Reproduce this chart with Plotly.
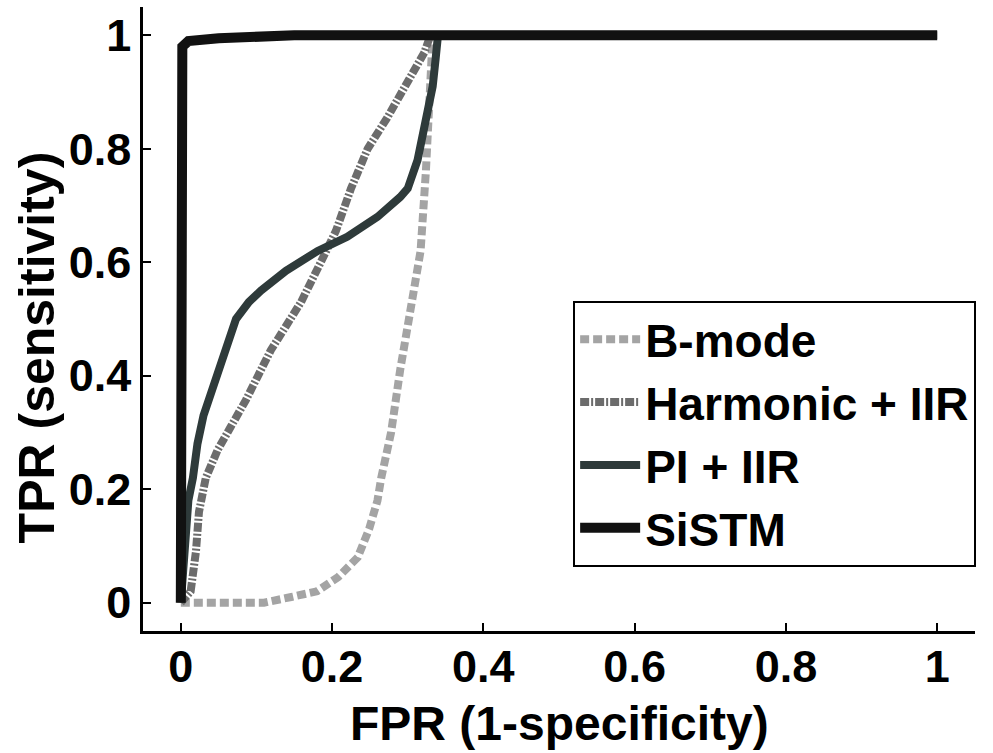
import plotly.graph_objects as go

# ---- data ----
bmode_fpr = [0.0, 0.05, 0.11, 0.146, 0.18, 0.208, 0.234, 0.249, 0.26, 0.265, 0.278, 0.29, 0.304, 0.317, 0.324, 0.33, 0.333]
bmode_tpr = [0.0, 0.0, 0.0, 0.01, 0.02, 0.045, 0.08, 0.13, 0.18, 0.22, 0.30, 0.41, 0.53, 0.62, 0.76, 0.90, 1.0]

harm_fpr = [0.0, 0.013, 0.02, 0.024, 0.033, 0.049, 0.066, 0.086, 0.119, 0.159, 0.185, 0.205, 0.225, 0.247, 0.273, 0.30, 0.322, 0.33]
harm_tpr = [0.0, 0.02, 0.09, 0.16, 0.22, 0.27, 0.31, 0.357, 0.445, 0.53, 0.60, 0.655, 0.73, 0.80, 0.855, 0.92, 0.97, 1.0]

pi_fpr = [0.0, 0.005, 0.01, 0.016, 0.022, 0.03, 0.04, 0.055, 0.073, 0.09, 0.106, 0.139, 0.181, 0.22, 0.26, 0.29, 0.30, 0.313, 0.322, 0.333, 0.337, 0.34, 1.0]
pi_tpr = [0.0, 0.10, 0.18, 0.22, 0.28, 0.33, 0.37, 0.43, 0.50, 0.53, 0.55, 0.585, 0.62, 0.645, 0.68, 0.715, 0.73, 0.78, 0.84, 0.91, 0.96, 1.0, 1.0]

sistm_fpr = [0.0, 0.002, 0.01, 0.05, 0.15, 1.0]
sistm_tpr = [0.0, 0.98, 0.99, 0.995, 1.0, 1.0]

tick_vals = [0, 0.2, 0.4, 0.6, 0.8, 1]
tick_text = ["0", "0.2", "0.4", "0.6", "0.8", "1"]

x_title = "FPR (1-specificity)"
y_title = "TPR (sensitivity)"

FONT = "Liberation Sans, Arial, Helvetica, sans-serif"

fig = go.Figure()
fig.add_trace(go.Scatter(x=bmode_fpr, y=bmode_tpr, mode="lines", name="B-mode", legendgroup="a",
                         line=dict(color="#a4a4a4", width=8, dash="9px,4px")))
fig.add_trace(go.Scatter(x=harm_fpr, y=harm_tpr, mode="lines", name="Harmonic + IIR", legendgroup="b",
                         line=dict(color="#6c6c6c", width=8, dash="9px,2px,2px,2px")))
fig.add_trace(go.Scatter(x=pi_fpr, y=pi_tpr, mode="lines", name="PI + IIR", legendgroup="c",
                         line=dict(color="#2e3a3a", width=8)))
fig.add_trace(go.Scatter(x=sistm_fpr, y=sistm_tpr, mode="lines", name="SiSTM", legendgroup="d",
                         line=dict(color="#111111", width=10)))

axis_common = dict(
    showgrid=False, zeroline=False, showline=True, linecolor="black", linewidth=2.5,
    ticks="inside", ticklen=8, tickwidth=2, tickcolor="black",
    tickvals=tick_vals, ticktext=tick_text, automargin=False,
    tickfont=dict(family=FONT, size=45, color="black", weight="bold"),
)

fig.update_layout(
    width=993, height=753,
    margin=dict(l=143, r=18, t=7, b=122),
    paper_bgcolor="white", plot_bgcolor="white",
    font=dict(family=FONT, color="black"),
    xaxis=dict(range=[-0.05, 1.05], ticklabelstandoff=-6, **axis_common),
    yaxis=dict(range=[-0.05, 1.05], ticklabelstandoff=0, **axis_common),
    legend=dict(x=0.517, y=0.529, xanchor="left", yanchor="top",
                bgcolor="white", bordercolor="black", borderwidth=2,
                tracegroupgap=0, itemwidth=60,
                font=dict(family=FONT, size=46, color="black", weight="bold")),
    showlegend=True,
    annotations=[
        dict(text=x_title, xref="paper", yref="paper", x=0.5, y=-0.149, xanchor="center", yanchor="middle",
             showarrow=False, font=dict(family=FONT, size=48, color="black", weight="bold")),
        dict(text=y_title, xref="paper", yref="paper", x=-0.127, y=0.455, xanchor="center", yanchor="middle",
             textangle=-90, showarrow=False, font=dict(family=FONT, size=50, color="black", weight="bold")),
    ],
)

fig.write_html("out.html")
